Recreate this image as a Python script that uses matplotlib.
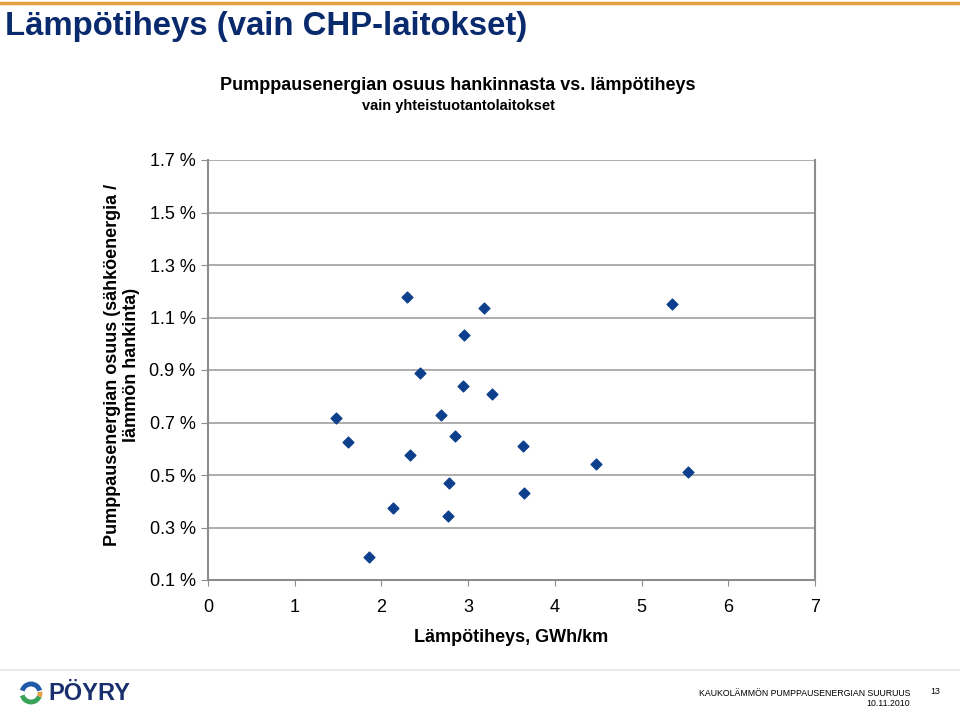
import matplotlib.pyplot as plt
from matplotlib.patches import Arc
from matplotlib.ticker import FuncFormatter

# Lämpötiheys (GWh/km) ja pumppausenergian osuus (%)
tiheys = [2.29, 3.18, 2.95, 2.45, 2.94, 3.28, 1.48, 2.69, 1.61, 2.85,
          3.63, 2.33, 2.78, 3.64, 2.13, 2.77, 1.86, 5.35, 4.48, 5.53]
osuus = [1.178, 1.136, 1.033, 0.890, 0.840, 0.809, 0.718, 0.729, 0.627, 0.650,
         0.612, 0.575, 0.470, 0.430, 0.375, 0.344, 0.188, 1.151, 0.543, 0.510]

y_ticks = [0.1, 0.3, 0.5, 0.7, 0.9, 1.1, 1.3, 1.5, 1.7]
x_ticks = [0, 1, 2, 3, 4, 5, 6, 7]

navy = '#0a2a6e'
plt.rcParams['font.family'] = ['Liberation Sans', 'DejaVu Sans']

fig = plt.figure(figsize=(9.6, 7.11), dpi=100)
ax = fig.add_axes([208 / 960, 1 - 580 / 711, (815 - 208) / 960, (580 - 160) / 711])

ax.scatter(tiheys, osuus, marker='D', s=30, color='#0d3f8c', zorder=3)

ax.set_xlim(0, 7)
ax.set_ylim(0.1, 1.7)
ax.set_xticks(x_ticks)
ax.set_yticks(y_ticks)
ax.yaxis.set_major_formatter(FuncFormatter(lambda v, p: '%.1f %%' % v))
ax.grid(axis='y', color='#a0a0a0', linewidth=1.2)
ax.set_axisbelow(True)
for s in ['left', 'bottom', 'right']:
    ax.spines[s].set_color('#8c8c8c')
    ax.spines[s].set_linewidth(1.5)
ax.spines['top'].set_visible(False)
ax.tick_params(axis='y', colors='#8c8c8c', labelcolor='black', labelsize=13, length=5, pad=4)
ax.tick_params(axis='x', colors='#8c8c8c', labelcolor='black', labelsize=13, length=4, pad=10)

ax.set_xlabel('Lämpötiheys, GWh/km', fontsize=13, fontweight='bold', labelpad=9)
fig.text(122 / 960, 1 - 365 / 711, 'Pumppausenergian osuus (sähköenergia /\nlämmön hankinta)',
         rotation=90, ha='center', va='center', fontsize=13, fontweight='bold',
         linespacing=1.1)

fig.text(458 / 960, 1 - 85 / 711, 'Pumppausenergian osuus hankinnasta vs. lämpötiheys',
         ha='center', va='center', fontsize=13, fontweight='bold')
fig.text(458 / 960, 1 - 106 / 711, 'vain yhteistuotantolaitokset',
         ha='center', va='center', fontsize=10.5, fontweight='bold')

# otsikko ja reunaviivat
fig.text(5 / 960, 1 - 27 / 711, 'Lämpötiheys (vain CHP-laitokset)',
         ha='left', va='center', fontsize=23.7, fontweight='bold', color=navy)
fig.add_artist(plt.Line2D([0, 1], [1 - 3 / 711, 1 - 3 / 711], color='#e4a040', linewidth=2.5))
fig.add_artist(plt.Line2D([0, 1], [1 - 670 / 711, 1 - 670 / 711], color='#e6e6e6', linewidth=1.2))

# logo
lx, ly, r = 31, 693, 9
for t1, t2, c in [(20, 160, '#1e5aa8'), (200, 330, '#3aa35a'), (330, 370, '#e4a040')]:
    fig.add_artist(Arc((lx / 960, 1 - ly / 711), 2 * r / 960, 2 * r / 711,
                       theta1=t1, theta2=t2, color=c, linewidth=3.5,
                       transform=fig.transFigure))
fig.text(48 / 960, 1 - 693 / 711, 'PÖYRY', ha='left', va='center',
         fontsize=17, fontweight='bold', color='#1a2f6e')

# alatunniste
fig.text(910 / 960, 1 - 694 / 711, 'KAUKOLÄMMÖN PUMPPAUSENERGIAN SUURUUS',
         ha='right', va='center', fontsize=6.3)
fig.text(910 / 960, 1 - 704 / 711, '10.11.2010', ha='right', va='center', fontsize=6.3)
fig.text(935 / 960, 1 - 692 / 711, '13', ha='center', va='center', fontsize=6.3)

fig.savefig('out.png', dpi=100)
